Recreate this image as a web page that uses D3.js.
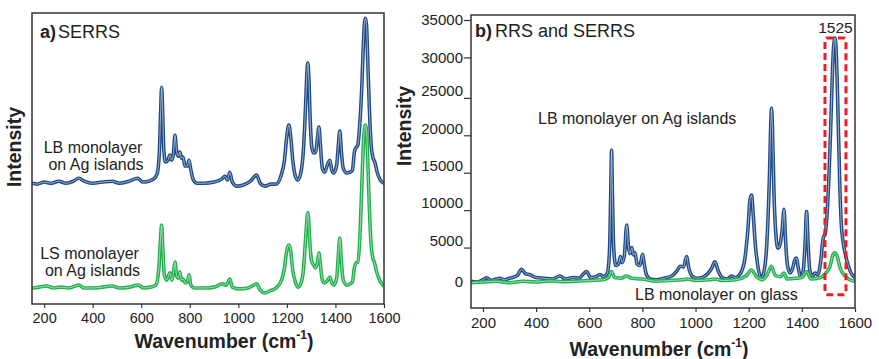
<!DOCTYPE html>
<html><head><meta charset="utf-8">
<script src="https://cdn.jsdelivr.net/npm/d3@7/dist/d3.min.js"></script>
<style>
body{margin:0;background:#fff;}
text{font-family:"Liberation Sans",Arial,sans-serif;fill:#222;}
</style></head>
<body>
<svg id="c" width="879" height="359"></svg>
<script>
// ---------- DATA ----------
// Panel a) SERRS (arbitrary units), [wavenumber, intensity]
const serrsLB = [[150,0.3],[170,0],[200,0.7],[230,0.3],[260,1],[290,0.3],[320,1],[343,2],[365,1],[400,0.3],[440,0.7],[480,1],[510,0.3],[550,1],[587,2],[605,0.7],[630,1],[650,1.7],[665,3.4],[675,11.7],[680,25],[684,33.3],[688,25],[693,11.7],[700,7.6],[710,8.2],[718,10],[725,8.2],[732,10],[739,16.8],[746,11],[753,9.6],[759,11],[766,8.9],[772,9.3],[780,6.2],[790,6.2],[797,8.2],[803,5.5],[815,1.4],[830,0.3],[860,0.3],[900,0.7],[930,1.7],[945,2.7],[955,1.4],[965,4.1],[975,0.7],[995,-0.7],[1020,-0.3],[1050,1],[1075,3.1],[1090,0.3],[1110,-0.7],[1135,0],[1155,0],[1175,2.7],[1190,8.2],[1200,16.8],[1208,20.3],[1215,16.8],[1225,7.6],[1235,2.7],[1245,1.4],[1258,4.1],[1268,11.7],[1278,28.9],[1283,39.2],[1286,41.6],[1290,37.5],[1296,22],[1303,12.4],[1310,10.7],[1318,11],[1326,15.8],[1332,19.6],[1338,13.4],[1346,5.5],[1355,4.1],[1368,6.9],[1377,8.2],[1385,4.8],[1393,3.8],[1405,6.5],[1412,13.4],[1418,18.2],[1424,11.7],[1432,5.5],[1447,3.8],[1460,4.1],[1470,4.8],[1478,11],[1484,12.4],[1492,13.4],[1500,20.3],[1508,32.3],[1515,47.8],[1520,55.7],[1524,57],[1528,54.6],[1533,42.6],[1540,25.4],[1547,13.4],[1554,9.3],[1562,7.6],[1572,4.1],[1585,1.4],[1600,0.3]];
const serrsLS = [[150,0],[180,0.3],[210,0.7],[240,0],[270,0.3],[300,0],[343,1],[365,0],[400,0],[440,0.3],[480,0.7],[510,0],[550,0.3],[587,1],[610,0],[640,0.3],[660,1],[672,6.2],[678,14.8],[684,21.6],[689,13.1],[695,4.5],[705,2.7],[718,5.2],[726,2.7],[733,5.5],[739,8.9],[746,4.1],[753,3.4],[759,5.5],[766,2.7],[772,3.1],[782,1.7],[790,2.1],[797,4.5],[804,1],[820,0],[860,0],[900,0.3],[935,1.4],[950,1],[965,3.1],[975,0.3],[1000,-0.3],[1040,0],[1075,1.4],[1090,-0.7],[1110,-1.7],[1130,-1],[1150,-0.3],[1175,2.1],[1190,6.9],[1200,13.1],[1208,14.8],[1215,13.1],[1225,5.5],[1235,2.1],[1245,0.3],[1258,1.7],[1268,6.2],[1278,18.2],[1283,24],[1286,25.8],[1290,22.7],[1296,13.7],[1303,8.9],[1310,7.9],[1318,6.9],[1326,8.9],[1332,12],[1338,7.9],[1346,2.7],[1355,1.7],[1368,2.7],[1377,3.8],[1385,1.7],[1393,1],[1405,3.4],[1412,11.3],[1418,17.2],[1424,9.6],[1432,2.7],[1447,1],[1460,1.4],[1470,2.1],[1478,6.9],[1484,8.6],[1492,8.9],[1500,16.5],[1508,33.7],[1515,49.1],[1520,55],[1524,56],[1528,54.3],[1533,44],[1540,26.8],[1547,14.8],[1554,10.3],[1560,8.9],[1570,5.5],[1585,2.1],[1600,0.7]];
const offsetLB = 41.2, offsetLS = 5.5;   // vertical stacking of panel a)

// Panel b) RRS and SERRS, [wavenumber, intensity]
const rrsAg = [[155,100],[175,0],[200,300],[214,550],[230,200],[250,400],[265,500],[280,300],[300,500],[330,900],[345,1700],[360,1100],[375,1000],[400,600],[430,500],[460,400],[490,800],[510,400],[540,600],[560,500],[590,1400],[605,600],[625,700],[640,1000],[655,700],[668,1200],[676,4000],[681,12000],[684,17600],[687,12000],[692,4500],[700,2200],[710,2400],[717,3400],[724,2600],[732,3500],[741,7600],[748,4500],[754,3800],[760,4600],[766,3600],[772,3900],[780,2400],[790,2200],[797,3200],[801,3700],[806,2600],[815,1000],[830,400],[850,300],[880,500],[910,800],[930,1500],[942,2100],[955,2000],[966,3400],[975,1800],[990,700],[1010,500],[1040,900],[1060,1800],[1073,2700],[1085,1500],[1100,600],[1120,400],[1135,800],[1150,600],[1170,1200],[1185,3000],[1197,7000],[1205,11000],[1211,11600],[1217,9000],[1225,5000],[1235,2000],[1247,500],[1258,1500],[1268,5000],[1278,14000],[1284,22000],[1286,23200],[1289,21000],[1295,12000],[1302,6500],[1310,4500],[1318,5000],[1326,7000],[1333,9700],[1338,6000],[1345,2500],[1355,1200],[1365,1800],[1374,3000],[1380,3200],[1386,2000],[1395,700],[1405,1500],[1412,5000],[1418,9400],[1423,5500],[1430,1500],[1440,800],[1450,1200],[1460,1000],[1470,2500],[1480,5800],[1488,6500],[1498,11000],[1508,20000],[1516,29000],[1521,32000],[1525,32600],[1529,31000],[1535,24000],[1542,14000],[1548,8000],[1555,5400],[1562,4000],[1572,2500],[1585,1200],[1600,600]];
const rrsGlass = [[155,-100],[200,0],[250,100],[300,-100],[350,100],[400,0],[450,150],[500,50],[550,100],[600,200],[650,300],[672,600],[684,1400],[695,600],[720,500],[740,800],[760,500],[800,400],[850,100],[900,200],[950,300],[970,400],[1000,200],[1050,300],[1075,400],[1100,200],[1150,300],[1190,800],[1210,1600],[1230,700],[1250,300],[1270,1000],[1285,2100],[1300,900],[1320,700],[1332,1200],[1345,400],[1380,500],[1400,600],[1418,1400],[1435,400],[1470,600],[1490,1200],[1505,2000],[1518,3700],[1525,3900],[1532,3500],[1545,1800],[1560,900],[1580,300],[1600,100]];
const xTicks = [200,400,600,800,1000,1200,1400,1600];
const yTicksB = [0,5000,10000,15000,20000,25000,30000,35000];
const boxWave = [1487,1566];
const boxInt = [-1700,32600];
const peakLabel = "1525";

// ---------- DRAW ----------
const svg = d3.select("#c");
const blue = "#1f4a85", green = "#1fb04c";
const FONT = '"Liberation Sans",Arial,sans-serif';

function drawTrace(g, data, x, y, color, clipId){
  const line = d3.line().x(d=>x(d[0])).y(d=>y(d[1])).curve(d3.curveMonotoneX);
  g.append("path").attr("d", line(data)).attr("fill","none").attr("stroke",color)
    .attr("stroke-width",3.6).attr("stroke-linejoin","round").attr("clip-path",`url(#${clipId})`);
  g.append("path").attr("d", line(data)).attr("fill","none").attr("stroke","#fff")
    .attr("stroke-opacity",0.55).attr("stroke-width",1).attr("clip-path",`url(#${clipId})`);
}

// Panel a
const A = {l:32, r:384, t:13, b:304};
const xA = d3.scaleLinear().domain([150,1600]).range([A.l,A.r]);
const yA = d3.scaleLinear().domain([0,100]).range([A.b,A.t]);
const defs = svg.append("defs");
defs.append("clipPath").attr("id","clipA").append("rect").attr("x",A.l).attr("y",A.t).attr("width",A.r-A.l).attr("height",A.b-A.t);
const gA = svg.append("g");
drawTrace(gA, serrsLS.map(d=>[d[0], d[1]+offsetLS]), xA, yA, green, "clipA");
drawTrace(gA, serrsLB.map(d=>[d[0], d[1]+offsetLB]), xA, yA, blue, "clipA");
gA.append("rect").attr("x",A.l).attr("y",A.t).attr("width",A.r-A.l).attr("height",A.b-A.t)
  .attr("fill","none").attr("stroke","#333").attr("stroke-width",1.5);
const axA = gA.append("g").attr("transform",`translate(0,${A.b})`)
  .call(d3.axisBottom(xA).tickValues(xTicks).tickSize(4).tickPadding(5).tickFormat(d3.format("d")));
axA.select(".domain").remove();
axA.selectAll("line").attr("stroke","#333").attr("stroke-width",1.2);
axA.selectAll("text").attr("font-size","14.5px").attr("font-family",FONT).attr("fill","#222");

// Panel b
const B = {l:471, r:855, t:15, b:308};
const xB = d3.scaleLinear().domain([155,1600]).range([B.l,B.r]);
const yB = d3.scaleLinear().domain([-3473,35667]).range([B.b,B.t]);
defs.append("clipPath").attr("id","clipB").append("rect").attr("x",B.l).attr("y",B.t).attr("width",B.r-B.l).attr("height",B.b-B.t);
const gB = svg.append("g");
drawTrace(gB, rrsAg, xB, yB, blue, "clipB");
drawTrace(gB, rrsGlass, xB, yB, green, "clipB");
gB.append("rect").attr("x",B.l).attr("y",B.t).attr("width",B.r-B.l).attr("height",B.b-B.t)
  .attr("fill","none").attr("stroke","#333").attr("stroke-width",1.5);
const axBx = gB.append("g").attr("transform",`translate(0,${B.b})`)
  .call(d3.axisBottom(xB).tickValues(xTicks).tickSize(4).tickPadding(5).tickFormat(d3.format("d")));
axBx.select(".domain").remove();
axBx.selectAll("line").attr("stroke","#333").attr("stroke-width",1.2);
axBx.selectAll("text").attr("font-size","15px").attr("font-family",FONT).attr("fill","#222");
const axBy = gB.append("g").attr("transform",`translate(${B.l},0)`)
  .call(d3.axisLeft(yB).tickValues(yTicksB).tickSize(7).tickPadding(1).tickFormat(d3.format("d")));
axBy.select(".domain").remove();
axBy.selectAll("line").attr("stroke","#333").attr("stroke-width",1.2);
axBy.selectAll("text").attr("font-size","15px").attr("font-family",FONT).attr("fill","#222");
axBy.selectAll(".tick").each(function(d){
  const t = d3.select(this);
  if (d===0) t.select("line").remove();
  else if (d<=25000){ t.select("line").attr("transform","translate(0,3)"); t.select("text").attr("dy","0.05em"); }
});

// red box
gB.append("rect").attr("x",xB(boxWave[0])).attr("y",yB(boxInt[1]))
  .attr("width",xB(boxWave[1])-xB(boxWave[0])).attr("height",yB(boxInt[0])-yB(boxInt[1]))
  .attr("rx",2).attr("fill","none").attr("stroke","#ee1c24").attr("stroke-width",3).attr("stroke-dasharray","7,4");
gB.append("text").attr("x",xB((boxWave[0]+boxWave[1])/2)).attr("y",33).attr("text-anchor","middle")
  .attr("font-size","15.5px").text(peakLabel);

// texts
function label(x,y,opts={}){
  return svg.append("text").attr("x",x).attr("y",y).attr("font-size",opts.size||"16px")
    .attr("text-anchor",opts.anchor||"start");
}
let t = label(40,38,{size:"18px"});
t.append("tspan").attr("font-weight","bold").text("a)");
t.append("tspan").attr("dx",2).text("SERRS");
t = label(475,37,{size:"18px"});
t.append("tspan").attr("font-weight","bold").text("b)");
t.append("tspan").attr("dx",3).text("RRS and SERRS");

label(93,153,{anchor:"middle"}).text("LB monolayer");
label(96,170,{anchor:"middle"}).text("on Ag islands");
label(89.5,259,{anchor:"middle"}).text("LS monolayer");
label(92.5,276,{anchor:"middle"}).text("on Ag islands");
label(538,124).text("LB monolayer on Ag islands");
label(635,300).text("LB monolayer on glass");

function xTitle(cx, y){
  const tt = svg.append("text").attr("x",cx).attr("y",y).attr("text-anchor","middle")
    .attr("font-size","19.5px").attr("font-weight","bold").attr("fill","#111");
  tt.append("tspan").text("Wavenumber (cm");
  tt.append("tspan").attr("font-size","12px").attr("dy","-0.75em").text("-1");
  tt.append("tspan").attr("dy","0.48em").text(")");
}
xTitle(224,348);
xTitle(659,356);
function yTitle(cx, cy){
  svg.append("text").attr("transform",`translate(${cx},${cy}) rotate(-90)`)
    .attr("text-anchor","middle").attr("dy","0.35em").attr("font-size","19.5px")
    .attr("font-weight","bold").attr("fill","#111").text("Intensity");
}
yTitle(14.5,147);
yTitle(404,126);
</script>
</body></html>
